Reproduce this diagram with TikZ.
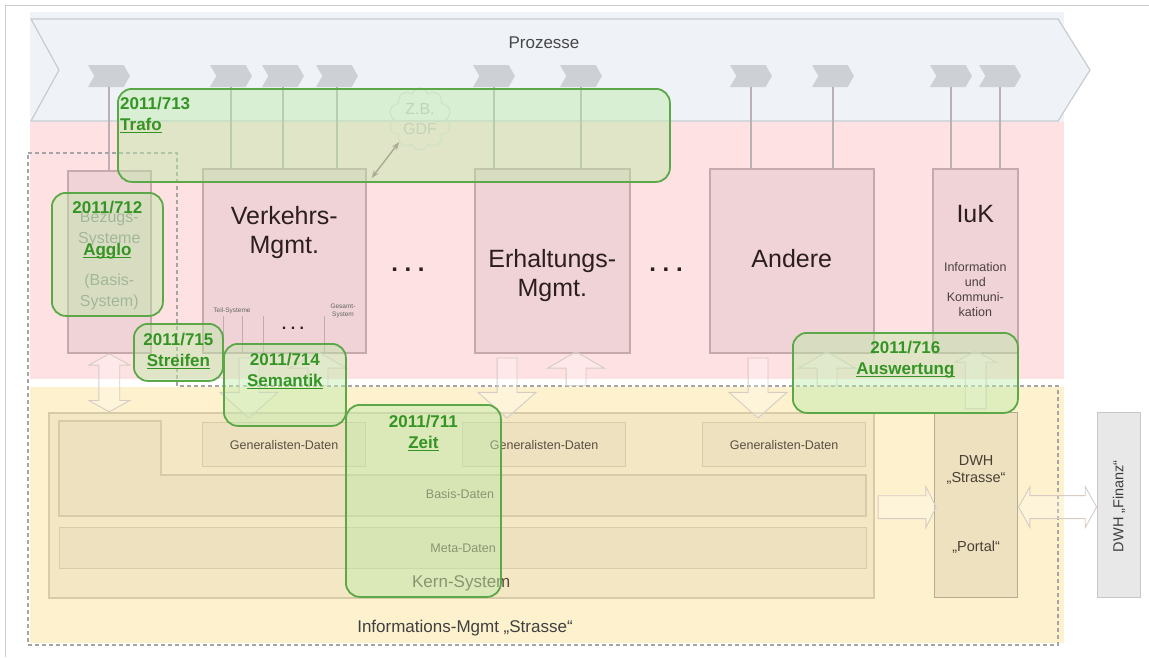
\documentclass[tikz,border=0pt]{standalone}
\usepackage{fontspec}
\setmainfont{Liberation Sans}
\usepackage{xcolor}
\usetikzlibrary{arrows.meta, calc, positioning, shapes.arrows, shapes.symbols}

\definecolor{framegray}{RGB}{205,205,205}
\definecolor{bannerbg}{RGB}{239,243,247}
\definecolor{bannerline}{RGB}{200,204,209}
\definecolor{tabgray}{RGB}{205,208,213}
\definecolor{tablinegray}{RGB}{185,178,180}
\definecolor{pinkbg}{RGB}{254,225,226}
\definecolor{sysfill}{RGB}{239,211,214}
\definecolor{sysline}{RGB}{197,169,173}
\definecolor{systext}{RGB}{45,30,30}
\definecolor{yellowbg}{RGB}{253,241,206}
\definecolor{kernfill}{RGB}{243,231,196}
\definecolor{datafill}{RGB}{237,225,191}
\definecolor{dataline}{RGB}{215,203,170}
\definecolor{datatext}{RGB}{90,80,65}
\definecolor{arrline}{RGB}{214,204,196}
\definecolor{dashgray}{RGB}{165,165,165}
\definecolor{cloudline}{RGB}{218,218,218}
\definecolor{cloudtext}{RGB}{195,195,195}
\definecolor{mauve}{RGB}{160,118,132}
\definecolor{projline}{RGB}{92,168,72}
\definecolor{projfill}{RGB}{190,235,170}
\definecolor{projtext}{RGB}{52,148,36}

\newcommand{\fs}[2]{\fontsize{#1}{#2}\selectfont}
\newcommand{\projlink}[1]{\setbox0\hbox{#1}\rlap{\raisebox{-2.6pt}{\rule{\wd0}{1.4pt}}}\box0}

\begin{document}
\begin{tikzpicture}[
        x = 1pt, y = -1pt, % pixel grid, y downwards
        sysbox/.style = {draw=sysline, fill=sysfill, line width=1.6pt, inner sep=0pt, anchor=north west},
        bigtext/.style = {font=\fs{25}{29}, text=systext, align=center, inner sep=0pt},
        databox/.style = {draw=dataline, fill=datafill, line width=1.2pt, inner sep=0pt, anchor=north west, text=datatext, font=\fs{12.5}{15}},
        tabshape/.style = {signal, signal to=east, signal from=west, signal pointer angle=120,
            fill=tabgray, minimum width=42pt, minimum height=22pt, inner sep=0pt},
        tabline/.style = {draw=tablinegray, line width=1.3pt},
        blockarrow/.style = {draw=arrline, line width=0.9pt, fill=white, fill opacity=0.25, inner xsep=0pt},
        proj/.style = {draw=projline, line width=1.8pt, fill=projfill, fill opacity=0.45,
            rounded corners=14pt, inner sep=0pt, anchor=north west},
        projlabel/.style = {text=projtext, font=\bfseries\fs{17}{21}, align=center, inner sep=0pt, anchor=north},
        dots/.style = {font=\bfseries\fs{24}{24}, text=systext, inner sep=0pt},
    ]
    \useasboundingbox (0,0) rectangle (1149,657);
    \draw[framegray] (5.5,657) -- (5.5,5.5) -- (1149,5.5);

    % Backgrounds
    \fill[bannerbg] (30,12) rectangle (1064,122);
    \fill[pinkbg] (30,122) rectangle (1064,379);
    \fill[yellowbg] (30,387) rectangle (1064,643);

    % Process banner
    \draw[bannerline, fill=bannerbg, line width=1.2pt]
        (31,19) -- (1058,19) -- (1090,70) -- (1058,121) -- (31,121) -- (59,70) -- cycle;
    \node[font=\fs{17}{20}, text=black!72] (proz) at (544,43) {Prozesse};

    % Process tabs
    \foreach \x/\i in {109/1, 231/2, 283/3, 337/4, 494/5, 581/6, 751/7, 833/8, 951/9, 1000/10} {
        \node[tabshape] (tab\i) at (\x,76) {};
    }

    % System boxes
    \foreach \pos/\w/\h/\n in {
        (67,170)/83/182/bez,
        (202,168)/163/184/verk,
        (474,168)/155/184/erh,
        (709,168)/164/184/andere,
        (932,168)/85/184/iuk} {
        \node[sysbox, minimum width=\w pt, minimum height=\h pt] (\n) at \pos {};
    }

    % Tab connectors
    \foreach \t/\b in {1/bez, 2/verk, 3/verk, 4/verk, 5/erh, 6/erh, 7/andere, 8/andere, 9/iuk, 10/iuk} {
        \draw[tabline] (tab\t.south) -- (tab\t.south |- \b.north);
    }

    % System texts
    \node[font=\fs{16}{21}, text=black!45, align=center, inner sep=0pt] (beztext) at ($(bez.north)+(0,59)$) {Bezugs-\\Systeme};
    \node[font=\fs{16}{21}, text=black!45, align=center, inner sep=0pt] (basistext) at ($(bez.north)+(0,122)$) {(Basis-\\System)};
    \node[bigtext] (verktext) at ($(verk.north)+(0,65)$) {Verkehrs-\\Mgmt.};
    \node[bigtext] (erhtext) at ($(erh.north)+(0,108)$) {Erhaltungs-\\Mgmt.};
    \node[bigtext] (andtext) at ($(andere.north)+(0,91)$) {Andere};
    \node[bigtext] (iuktext) at ($(iuk.north)+(0,46)$) {IuK};
    \node[font=\fs{12.5}{15}, text=systext!85, align=center, inner sep=0pt] (iuksmall) at ($(iuk.north)+(0,122)$)
        {Information\\und\\Kommuni-\\kation};
    \node[dots] (dotsA) at (408,270) {.\ .\ .};
    \node[dots] (dotsB) at (666,270) {.\ .\ .};

    % Teil-Systeme inside Verkehrs-Mgmt
    \foreach \x in {223, 242, 263, 324} {
        \draw[sysline, line width=0.8pt] (\x,316) -- (\x,352);
    }
    \node[font=\fs{6.5}{8}, text=black!60, inner sep=0pt] (teil) at (232,311) {Teil-Systeme};
    \node[font=\fs{6.5}{8}, text=black!60, align=center, inner sep=0pt] (gesamt) at (343,311) {Gesamt-\\System};
    \node[font=\bfseries\fs{16}{16}, text=systext, inner sep=0pt] (dotsC) at (293,328) {.\ .\ .};

    % Kern-System
    \node[databox, fill=kernfill, line width=1.5pt, minimum width=825pt, minimum height=185pt] (kern) at (48,412) {};
    \draw[databox] (59,421) -- (161,421) -- (161,475) -- (866,475) -- (866,516) -- (59,516) -- cycle;
    \node[databox, minimum width=807pt, minimum height=41pt] (meta) at (59,527) {Meta-Daten};
    \foreach \x/\i in {202/1, 462/2, 702/3} {
        \node[databox, minimum width=163pt, minimum height=44pt] (gen\i) at (\x,422) {Generalisten-Daten};
    }
    \node[text=datatext, font=\fs{12.5}{15}, inner sep=0pt] (basis) at (460,494) {Basis-Daten};
    \node[text=datatext, font=\fs{17}{20}, inner sep=0pt] (kerntext) at ($(kern.south)+(0,-15)$) {Kern-System};

    % DWH boxes
    \node[databox, draw=dataline!80!black!90, minimum width=83pt, minimum height=185pt] (dwh) at (934,412) {};
    \node[font=\fs{14.5}{17}, text=datatext!80!black, align=center, inner sep=0pt] (dwhtext) at ($(dwh.north)+(0,58)$) {DWH\\„Strasse“};
    \node[font=\fs{14.5}{17}, text=datatext!80!black, inner sep=0pt] (portal) at ($(dwh.north)+(0,135)$) {„Portal“};
    \node[draw=black!22, fill=black!9, line width=1.2pt, minimum width=43pt, minimum height=185pt, anchor=north west] (fin) at (1097,412) {};
    \node[font=\fs{14.5}{17}, text=black!75, rotate=90, inner sep=0pt] (fintext) at ($(fin.center)+(0,1)$) {DWH „Finanz“};

    % Informations-Mgmt boundary
    \draw[dashgray, line width=1.5pt, dash pattern=on 4pt off 3pt]
        (28,153) -- (177,153) -- (177,386) -- (1058,386) -- (1058,645) -- (28,645) -- cycle;
    \node[font=\fs{17}{20}, text=black!75, inner sep=0pt] (infomgmt) at (465,628) {Informations-Mgmt „Strasse“};

    % Block arrows
    \node[blockarrow, double arrow, rotate=90, minimum height=58pt, inner ysep=10pt,
        double arrow head extend=10pt, double arrow tip angle=122] (bezkern)
        at ($(bez.south)!0.5!(bez.south |- kern.north)$) {};
    \foreach \b/\dx in {verk/47, erh/33, andere/49} {
        \node[blockarrow, single arrow, rotate=-90, minimum height=60pt, inner ysep=9.5pt,
            single arrow head extend=19pt, single arrow tip angle=97] (down\b)
            at ($(\b.south west)+(\dx,30)$) {};
    }
    \foreach \b/\dx in {verk/116, erh/102, andere/118} {
        \node[blockarrow, single arrow, rotate=90, minimum height=34pt, inner ysep=9.5pt,
            single arrow head extend=18.5pt, single arrow tip angle=120] (up\b)
            at ($(\b.south west)+(\dx,18)$) {};
    }
    \node[blockarrow, single arrow, rotate=90, minimum height=58pt, inner ysep=10pt,
        single arrow head extend=10pt, single arrow tip angle=122] (dwhiuk)
        at ($(iuk.south)!0.5!(dwh.north)$) {};
    \node[blockarrow, single arrow, minimum height=58pt, inner ysep=11pt,
        single arrow head extend=9pt, single arrow tip angle=127] (kerndwh)
        at ($(kern.east)!0.5!(dwh.west)+(0,2)$) {};
    \node[blockarrow, double arrow, minimum height=78pt, inner ysep=11pt,
        double arrow head extend=9pt, double arrow tip angle=122] (dwhfin)
        at ($(dwh.east)!0.5!(fin.west)+(0,2)$) {};

    % Z.B. GDF cloud
    \node[cloud, cloud puffs=10, draw=cloudline, line width=1pt, minimum width=62pt, minimum height=62pt,
        text=cloudtext, font=\fs{16}{20}, align=center, inner sep=0pt] (gdf) at (420,119) {Z.B.\\GDF};
    \draw[mauve, line width=1.5pt, {Stealth[length=8pt, width=6pt]}-{Stealth[length=8pt, width=6pt]}]
        ([xshift=5pt, yshift=-10pt]verk.north east) -- (gdf.228);

    % Projects
    \node[proj, minimum width=552pt, minimum height=93pt] (p713) at (117,88) {};
    \node[proj, minimum width=111pt, minimum height=123pt] (p712) at (51,192) {};
    \node[proj, minimum width=89pt, minimum height=57pt] (p715) at (133,323) {};
    \node[proj, minimum width=122pt, minimum height=82pt] (p714) at (223,343) {};
    \node[proj, minimum width=155pt, minimum height=192pt] (p711) at (345,404) {};
    \node[proj, minimum width=225pt, minimum height=80pt] (p716) at (792,332) {};

    \node[projlabel, anchor=north west, align=left] (l713) at ($(p713.north west)+(3,9)$) {2011/713\\\projlink{Trafo}};
    \node[projlabel] (l712) at ($(p712.north)+(0,9)$) {2011/712\\[21pt]\projlink{Agglo}};
    \node[projlabel] (l715) at ($(p715.north)+(0,10)$) {2011/715\\\projlink{Streifen}};
    \node[projlabel] (l714) at ($(p714.north)+(0,10)$) {2011/714\\\projlink{Semantik}};
    \node[projlabel] (l711) at ($(p711.north)+(0,11)$) {2011/711\\\projlink{Zeit}};
    \node[projlabel] (l716) at ($(p716.north)+(0,9)$) {2011/716\\\projlink{Auswertung}};
\end{tikzpicture}
\end{document}
